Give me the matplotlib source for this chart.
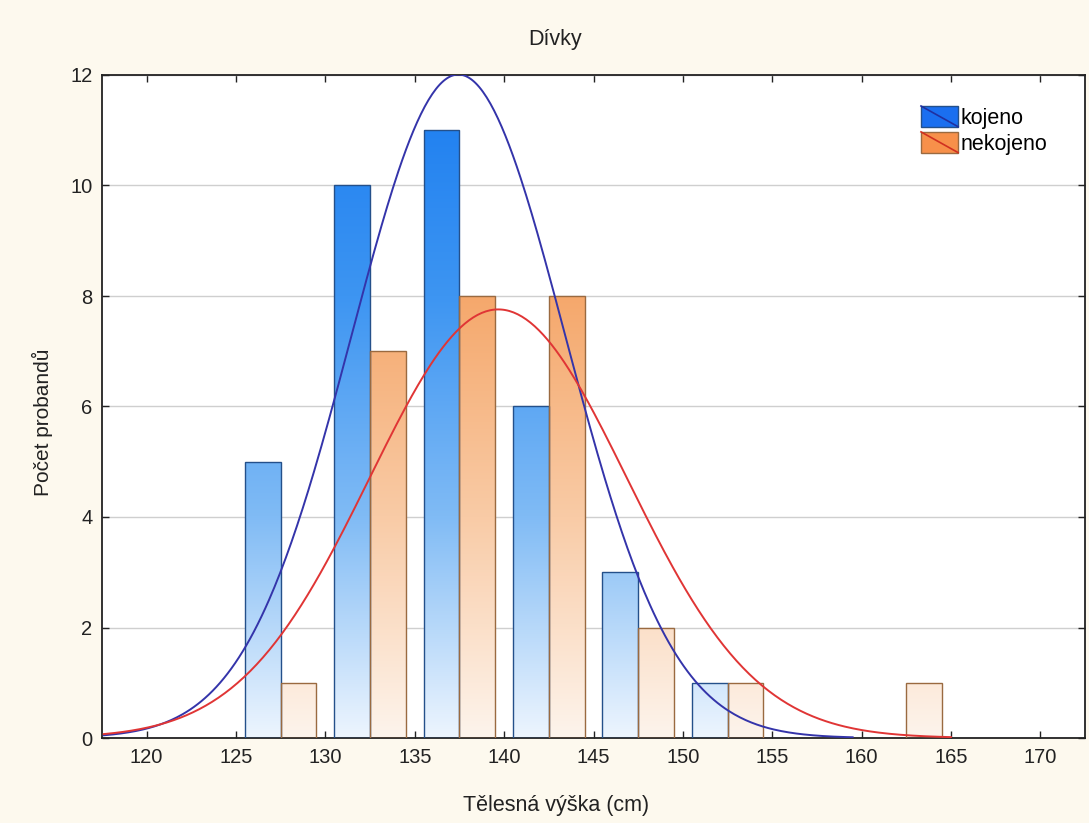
import numpy as np
import matplotlib
matplotlib.use("Agg")
import matplotlib.pyplot as plt
from matplotlib.colors import LinearSegmentedColormap
from matplotlib.patches import Rectangle, Patch
from matplotlib.lines import Line2D
from matplotlib.legend_handler import HandlerBase

plt.rcParams['font.family'] = ['Liberation Sans', 'DejaVu Sans']

# střední hodnoty intervalů tělesné výšky (šířka 5 cm)
bin_centers = [127.5, 132.5, 137.5, 142.5, 147.5, 152.5, 157.5, 162.5]
kojeno = [5, 10, 11, 6, 3, 1, 0, 0]
nekojeno = [1, 7, 8, 8, 2, 1, 0, 1]
bin_width = 5

# parametry proložených normálních křivek
kojeno_mean, kojeno_sd, kojeno_range = 137.44, 5.98, (117.6, 159.5)
nekojeno_mean, nekojeno_sd, nekojeno_range = 139.67, 7.2, (117.6, 165.0)

x_ticks = [120, 125, 130, 135, 140, 145, 150, 155, 160, 165, 170]
y_ticks = [0, 2, 4, 6, 8, 10, 12]

blue_cmap = LinearSegmentedColormap.from_list(
    'b', ['#edf5fe', '#80bbf5', '#3d95f2', '#1a7cf0'])
orange_cmap = LinearSegmentedColormap.from_list(
    'o', ['#fdf4ec', '#f9cba6', '#f5a86c', '#f2843a'])


def normal_curve(mean, sd, n, lims):
    xs = np.linspace(lims[0], lims[1], 400)
    ys = n * bin_width / (sd * np.sqrt(2 * np.pi)) * np.exp(-(xs - mean) ** 2 / (2 * sd ** 2))
    return xs, ys


def gradient_bar(ax, x0, width, height, cmap, edge):
    if height <= 0:
        return
    rect = Rectangle((x0, 0), width, height, facecolor='none', edgecolor=edge, lw=1.0, zorder=3)
    ax.add_patch(rect)
    grad = np.linspace(0, 1, 256).reshape(-1, 1)
    im = ax.imshow(grad, cmap=cmap, origin='lower', aspect='auto',
                   extent=(x0, x0 + width, 0, 12), zorder=2, interpolation='bilinear')
    im.set_clip_path(rect)


class DiagHandler(HandlerBase):
    def __init__(self, line_color):
        super().__init__()
        self.line_color = line_color

    def create_artists(self, legend, orig_handle, xdescent, ydescent, width, height, fontsize, trans):
        r = Rectangle((-xdescent, -ydescent), width, height,
                      facecolor=orig_handle.get_facecolor(),
                      edgecolor=orig_handle.get_edgecolor(), lw=1.0, transform=trans)
        l = Line2D([-xdescent, -xdescent + width], [-ydescent + height, -ydescent],
                   color=self.line_color, lw=1.2, transform=trans)
        return [r, l]


fig = plt.figure(figsize=(10.89, 8.23), dpi=100, facecolor='#fdf9ee')
ax = fig.add_axes([102 / 1089, 85 / 823, 983 / 1089, 663 / 823])
ax.set_facecolor('white')

for c, kb, nk in zip(bin_centers, kojeno, nekojeno):
    gradient_bar(ax, c - 2, 2, kb, blue_cmap, '#24508a')
    gradient_bar(ax, c, 2, nk, orange_cmap, '#9a6a40')

xs, ys = normal_curve(kojeno_mean, kojeno_sd, sum(kojeno), kojeno_range)
ax.plot(xs, ys, color='#3434aa', lw=1.4, zorder=4)
xs, ys = normal_curve(nekojeno_mean, nekojeno_sd, sum(nekojeno), nekojeno_range)
ax.plot(xs, ys, color='#e03535', lw=1.4, zorder=4)

ax.set_xlim(117.5, 172.5)
ax.set_ylim(0, 12)
ax.set_xticks(x_ticks)
ax.set_yticks(y_ticks)
ax.yaxis.grid(True, color='#cfcfcf', lw=1.0)
ax.set_axisbelow(True)
ax.tick_params(direction='in', top=True, right=True, length=5, width=1,
               labelsize=14.5, colors='#222222', pad=7)
for s in ax.spines.values():
    s.set_linewidth(1.3)
    s.set_color('#222222')

fig.text(555 / 1089, 1 - 40 / 823, 'Dívky', ha='center', va='center', fontsize=15.5, color='#222222')
fig.text(556 / 1089, 1 - 805 / 823, 'Tělesná výška (cm)', ha='center', va='center',
         fontsize=15.5, color='#222222')
fig.text(42 / 1089, 1 - 422 / 823, 'Počet probandů', ha='center', va='center',
         rotation=90, fontsize=15, color='#222222')

h1 = Patch(facecolor='#1a6ff0', edgecolor='#24508a', label='kojeno')
h2 = Patch(facecolor='#f7904a', edgecolor='#9a6a40', label='nekojeno')
ax.legend(handles=[h1, h2], loc='upper left',
          bbox_to_anchor=(921 / 1089, 1 - 106 / 823), bbox_transform=fig.transFigure,
          frameon=False, fontsize=15.5, borderpad=0, borderaxespad=0,
          handlelength=1.72, handleheight=1.1, handletextpad=0.1, labelspacing=0.15,
          handler_map={h1: DiagHandler('#2030a0'), h2: DiagHandler('#d03020')})

fig.savefig('out.png', dpi=100, facecolor=fig.get_facecolor())
